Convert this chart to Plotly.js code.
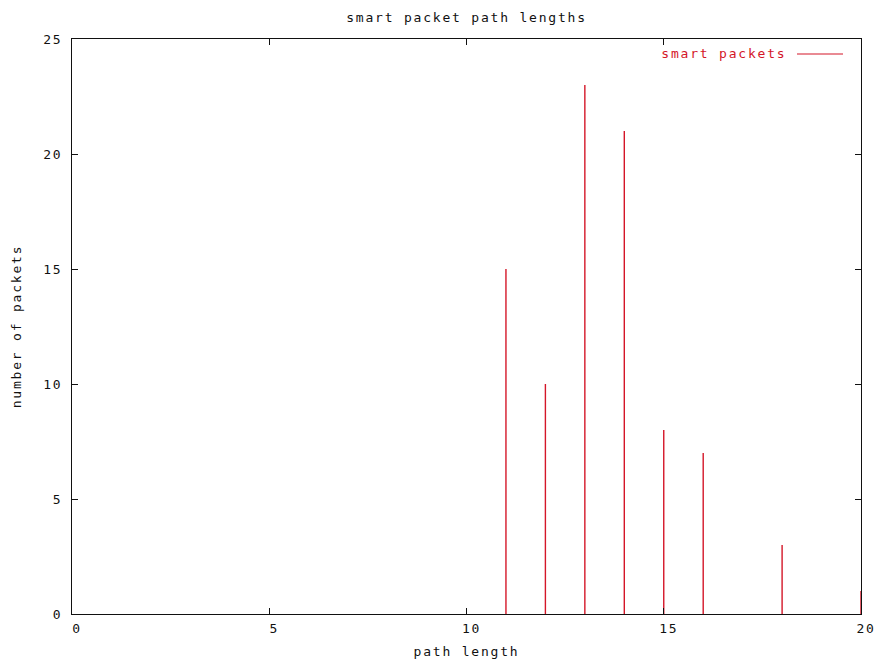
<!DOCTYPE html>
<html>
<head>
<meta charset="utf-8">
<script src="https://cdn.plot.ly/plotly-3.0.1.min.js"></script>
<style>
  html, body { margin: 0; padding: 0; background: #fff; }
  #plot { width: 880px; height: 666px; }
  /* wide, evenly spaced monospace lettering */
  #plot text { letter-spacing: 1.8px; }
</style>
</head>
<body>
<div id="plot"></div>
<script>
// path length (hops) and how many smart packets took that many hops
const pathLength = [11, 12, 13, 14, 15, 16, 18, 20];
const packetCount = [15, 10, 23, 21, 8, 7, 3, 1];
const seriesName = "smart packets";

const FONT = "DejaVu Sans Mono";
const INK = "#111111";
const RED = "#d41628";

// impulses: one vertical segment from 0 up to each count
const impX = [], impY = [];
pathLength.forEach((x, i) => {
  impX.push(x, x, null);
  impY.push(0, packetCount[i], null);
});

const trace = {
  type: "scatter",
  mode: "lines",
  name: seriesName,
  x: impX,
  y: impY,
  line: { color: RED, width: 1.4 },
  cliponaxis: false,
  connectgaps: false,
  showlegend: false,
  hoverinfo: "skip"
};

const axisCommon = {
  showline: true,
  linecolor: INK,
  linewidth: 1,
  mirror: "ticks",
  ticks: "inside",
  ticklen: 6,
  tickwidth: 1,
  tickcolor: INK,
  showgrid: false,
  zeroline: false,
  tickfont: { family: FONT, size: 13, color: INK },
  fixedrange: true
};

const layout = {
  width: 880,
  height: 666,
  paper_bgcolor: "#ffffff",
  plot_bgcolor: "#ffffff",
  margin: { l: 72, r: 19, t: 39, b: 52 },
  showlegend: false,
  title: {
    text: "smart packet path lengths",
    font: { family: FONT, size: 13, color: INK },
    x: 0.5, xref: "paper",
    y: 1 - 17 / 666, yref: "container", yanchor: "middle"
  },
  xaxis: Object.assign({}, axisCommon, {
    range: [0, 20],
    tickmode: "linear", tick0: 0, dtick: 5,
    ticklabelshift: 5,
    ticklabelstandoff: 2,
    title: { text: "path length", font: { family: FONT, size: 13, color: INK }, standoff: 12 }
  }),
  yaxis: Object.assign({}, axisCommon, {
    range: [0, 25],
    tickmode: "linear", tick0: 0, dtick: 5,
    ticklabelstandoff: 6,
    title: { text: "number of packets", font: { family: FONT, size: 13, color: INK }, standoff: 22 }
  }),
  annotations: [{
    text: seriesName,
    xref: "paper", yref: "paper",
    x: (777 - 72) / 789, y: 1 - 14 / 575,
    xanchor: "right", yanchor: "middle",
    showarrow: false,
    font: { family: FONT, size: 13, color: RED }
  }],
  shapes: [{
    type: "line",
    xref: "paper", yref: "paper",
    x0: (797 - 72) / 789, x1: (843 - 72) / 789,
    y0: 1 - 15 / 575, y1: 1 - 15 / 575,
    line: { color: RED, width: 1.2 }
  }]
};

Plotly.newPlot("plot", [trace], layout, { displayModeBar: false, staticPlot: true });
</script>
</body>
</html>
